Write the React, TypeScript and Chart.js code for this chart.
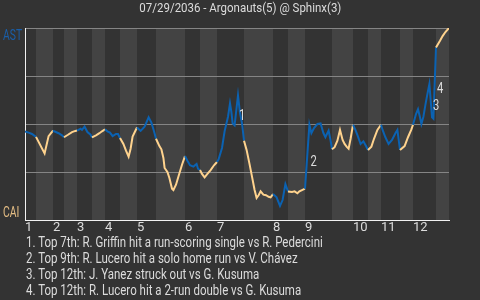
import React, { useEffect, useMemo, useRef } from "react";
import { Chart, registerables } from "chart.js";
Chart.register(...registerables);

const TITLE = "07/29/2036 - Argonauts(5) @ Sphinx(3)";
const AWAY = "AST";
const HOME = "CAI";
const inningLabels = ["1", "2", "3", "4", "5", "6", "7", "8", "9", "10", "11", "12"];
const inningStarts = [0, 7, 13, 20, 28, 40, 48, 62, 70, 82, 89, 97];
const halfInningEdges = [0, 2.75, 7, 9.75, 13, 16.75, 20, 23.75, 28, 32.75, 40, 43.75, 48, 54.75, 62, 65.75, 70, 76.75, 82, 85.75, 89, 93.75, 97, 102.75, 106];

const playIndex = [
  0, 0.9, 1.75, 2.75,
  4.9, 5.9, 6.6, 7,
  8.4, 9.25, 9.75,
  10.75, 11.75, 12.6, 13,
  13.9, 14.25, 14.9, 15.6, 16.4, 16.75,
  17.75, 18.6, 19.25, 20,
  20.6, 21.25, 21.9, 22.75, 23.25, 23.75,
  24.6, 25.25, 25.9, 26.4, 26.9, 27.6, 28,
  28.9, 29.9, 30.9, 31.6, 32.25, 32.75,
  33.6, 34.1, 34.6, 34.9, 35.6, 36.1, 36.75, 37.1, 37.75, 38.4, 39.25, 40,
  40.6, 41.25, 42.1, 42.9, 43.25, 43.75,
  44.25, 44.9, 45.6, 46.4, 47.25, 48,
  48.4, 49.25, 49.9, 50.75, 51.25, 51.6, 51.9, 52.4, 53.25, 53.75, 54.25, 54.75,
  55.4, 56.1, 56.75, 57.4, 57.9, 58.4, 58.9, 59.6, 60.25, 60.9, 61.4, 62,
  62.9, 63.75, 64.4, 65.1, 65.75,
  66.75, 67.4, 68.1, 68.6, 69.25, 70,
  71.1, 71.6, 72.25, 73.1, 73.9, 74.6, 75.1, 75.9, 76.4, 76.75,
  77.4, 78.1, 78.75, 79.4, 79.9, 80.4, 80.9, 81.4, 82,
  82.6, 83.25, 83.9, 84.6, 85.25, 85.75,
  86.6, 87.25, 88.1, 89,
  89.4, 90.1, 90.9, 91.75, 92.6, 93.1, 93.75,
  94.9, 95.75, 96.6, 97,
  97.75, 98.25, 98.75, 99.1, 99.6, 100.1, 100.6, 101.1, 101.75, 102.1, 102.75,
  103.75, 104.4, 105.1, 106,
];

const awayWinPct = [
  46.1, 45.5, 44.8, 43.3,
  34.7, 43.7, 45.5, 46.5,
  45.2, 44.1, 43.1,
  44.4, 45.8, 46.4, 46.6,
  47.5, 46.9, 48.6, 45.8, 44.4, 43.0,
  44.1, 45.2, 46.2, 47.2,
  46.2, 45.5, 43.7, 44.8, 44.8, 42.7,
  39.6, 36.1, 33.0, 37.1, 43.4, 46.5, 48.2,
  46.4, 48.6, 53.5, 50.7, 46.2, 42.3,
  38.5, 36.8, 32.3, 27.1, 25.0, 21.9, 16.3, 15.6, 18.4, 22.9, 28.8, 33.3,
  30.9, 28.5, 27.8, 29.2, 26.7, 26.0,
  24.0, 22.2, 24.0, 26.0, 28.5, 30.2,
  31.6, 37.5, 46.2, 53.8, 60.8, 56.2, 50.4, 49.3, 64.9, 55.7, 50.4, 41.3,
  36.5, 29.5, 22.6, 15.6, 11.5, 12.9, 14.9, 13.2, 12.9, 12.1, 11.8, 13.5,
  11.8, 7.3, 10.4, 18.7, 14.9,
  14.6, 14.9, 13.9, 14.9, 15.6, 16.3,
  49.6, 45.2, 47.9, 50.0, 50.3, 45.3, 43.1, 46.6, 41.4, 36.8,
  37.9, 41.3, 46.9, 41.7, 39.6, 38.2, 37.1, 42.3, 49.6,
  46.9, 43.4, 39.6, 41.0, 38.5, 36.5,
  38.2, 42.3, 46.9, 49.6,
  46.9, 43.1, 39.6, 41.7, 45.2, 46.9, 36.5,
  38.5, 43.1, 47.2, 49.6,
  55.2, 57.7, 53.5, 50.0, 53.8, 60.0, 65.6, 70.8, 53.5, 52.8, 89.9,
  93.4, 95.8, 97.9, 100,
];

const notePlays = [53.25, 71.1, 101.75, 102.75];
const notes = [
  "1. Top 7th: R. Griffin hit a run-scoring single vs R. Pedercini",
  "2. Top 9th: R. Lucero hit a solo home run vs V. Chávez",
  "3. Top 12th: J. Yanez struck out vs G. Kusuma",
  "4. Top 12th: R. Lucero hit a 2-run double vs G. Kusuma",
];

const FONT = "Roboto, sans-serif";
const BG = "#333333";
const BAND = "#434343";
const BLUE = "#0b62b2";
const ORANGE = "#ffd38e";
const TEXT = "#dcdcdc";
const SQUEEZE = 0.74;

function halfIndexAt(x: number): number {
  for (let i = 0; i < halfInningEdges.length - 1; i++) {
    if (x >= halfInningEdges[i] && x < halfInningEdges[i + 1]) return i;
  }
  return halfInningEdges.length - 2;
}

function measure(text: string, font: string): number {
  const c = document.createElement("canvas").getContext("2d");
  if (!c) return 0;
  c.font = font;
  return c.measureText(text).width;
}

function squeezedText(ctx: CanvasRenderingContext2D, text: string, x: number, y: number, sx: number) {
  ctx.save();
  ctx.translate(x, y);
  ctx.scale(sx, 1);
  ctx.fillText(text, 0, 0);
  ctx.restore();
}

export default function App() {
  const ref = useRef<HTMLCanvasElement>(null);
  const titleScale = useMemo(() => {
    const w = measure(TITLE, "13px " + FONT);
    return w > 0 ? 202 / w : SQUEEZE;
  }, []);
  const noteScale = useMemo(() => {
    const w = measure(notes[0], "14px " + FONT);
    return w > 0 ? 297 / w : SQUEEZE;
  }, []);

  useEffect(() => {
    document.body.style.margin = "0";
    document.body.style.background = BG;
    const canvas = ref.current!;

    const bands = {
      id: "bands",
      beforeDraw(chart: any) {
        const { ctx, chartArea, scales } = chart;
        ctx.save();
        ctx.fillStyle = BG;
        ctx.fillRect(0, 0, chart.width, chart.height);
        for (let i = 1; i < halfInningEdges.length - 1; i += 2) {
          const x0 = scales.x.getPixelForValue(halfInningEdges[i]);
          const x1 = scales.x.getPixelForValue(halfInningEdges[i + 1]);
          ctx.fillStyle = BAND;
          ctx.fillRect(x0, chartArea.top, x1 - x0, chartArea.bottom - chartArea.top);
        }
        ctx.restore();
      },
    };

    const labels = {
      id: "labels",
      afterDatasetsDraw(chart: any) {
        const { ctx, chartArea, scales } = chart;
        ctx.save();
        ctx.font = "14px " + FONT;
        ctx.textAlign = "left";
        ctx.textBaseline = "alphabetic";
        ctx.fillStyle = "#1a5ea8";
        squeezedText(ctx, AWAY, 3, chartArea.top + 11.5, 0.74);
        ctx.fillStyle = "#e4bd84";
        squeezedText(ctx, HOME, 3, chartArea.bottom - 3, 0.74);
        ctx.fillStyle = TEXT;
        ctx.textBaseline = "top";
        notePlays.forEach((p, k) => {
          const i = playIndex.indexOf(p);
          if (i < 1) return;
          const x = scales.x.getPixelForValue(playIndex[i]) + 1;
          const y = (scales.y.getPixelForValue(awayWinPct[i - 1]) + scales.y.getPixelForValue(awayWinPct[i])) / 2;
          squeezedText(ctx, String(k + 1), x, y - 1, 0.8);
        });
        ctx.restore();
      },
    };

    const chart = new Chart(canvas, {
      type: "line",
      data: {
        datasets: [
          {
            data: playIndex.map((x, i) => ({ x, y: awayWinPct[i] })),
            borderWidth: 2,
            pointRadius: 0,
            tension: 0,
            borderColor: BLUE,
            segment: {
              borderColor: (c: any) =>
                halfIndexAt((c.p0.parsed.x + c.p1.parsed.x) / 2) % 2 === 0 ? BLUE : ORANGE,
            },
          },
        ],
      },
      options: {
        animation: false,
        responsive: false,
        layout: { padding: { left: 0, right: 31, top: 28, bottom: 0 } },
        plugins: {
          legend: { display: false },
          tooltip: { enabled: false },
          title: { display: false },
        },
        scales: {
          x: {
            type: "linear",
            min: 0,
            max: 106,
            grid: { display: false, drawTicks: false },
            border: { display: true, color: "#f2f2f2", width: 1 },
            afterBuildTicks: (s: any) => {
              s.ticks = inningStarts.map((v) => ({ value: v }));
            },
            afterFit: (s: any) => {
              s.height = 80;
            },
            ticks: {
              autoSkip: false,
              maxRotation: 0,
              minRotation: 0,
              align: "start",
              padding: 0,
              color: TEXT,
              font: { family: FONT, size: 13 },
              callback: (_v: any, i: number) => inningLabels[i],
            },
          },
          y: {
            min: 0,
            max: 100,
            ticks: { display: false, stepSize: 25 },
            grid: {
              drawTicks: false,
              color: (c: any) => (c.tick && c.tick.value === 0 ? "rgba(0,0,0,0)" : "#858585"),
              lineWidth: 1,
            },
            border: { display: true, color: "#f2f2f2", width: 1 },
            afterFit: (s: any) => {
              s.width = 25;
            },
          },
        },
      },
      plugins: [bands, labels],
    });
    return () => chart.destroy();
  }, []);

  return (
    <div style={{ position: "relative", width: 480, height: 300, background: BG, overflow: "hidden" }}>
      <canvas ref={ref} width={480} height={300} style={{ display: "block" }} />
      <div
        style={{
          position: "absolute",
          left: 0,
          top: 0,
          width: 481,
          textAlign: "center",
          color: TEXT,
          fontFamily: FONT,
          fontSize: 13,
          lineHeight: "16px",
          whiteSpace: "nowrap",
        }}
      >
        <span style={{ display: "inline-block", transform: `scaleX(${titleScale})`, transformOrigin: "center top" }}>
          {TITLE}
        </span>
      </div>
      <div
        style={{
          position: "absolute",
          left: 26,
          top: 234,
          color: TEXT,
          fontFamily: FONT,
          fontSize: 14,
          lineHeight: "16px",
          whiteSpace: "nowrap",
          transform: `scaleX(${noteScale})`,
          transformOrigin: "left top",
        }}
      >
        {notes.map((n) => (
          <div key={n}>{n}</div>
        ))}
      </div>
    </div>
  );
}
